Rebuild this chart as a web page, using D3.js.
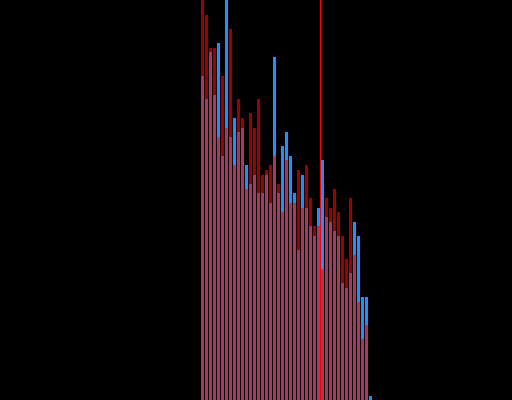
<!DOCTYPE html>
<html>
<head>
<meta charset="utf-8">
<script src="https://cdn.jsdelivr.net/npm/d3@7"></script>
<style>
html, body { margin: 0; padding: 0; background: #000; overflow: hidden; }
svg { display: block; }
</style>
</head>
<body>
<script>
// Bin start positions (x domain units)
const bins = d3.range(50, 93);
// Blue series values
const blueValues = [324, 301, 348, 305, 357, 244, 400, 263, 282, 268, 272, 235, 216, 225, 207,
  207, 225, 197, 343, 207, 254, 268, 244, 207, 150, 225, 192, 174, 164, 192,
  240, 183, 178, 169, 164, 117, 112, 127, 178, 164, 103, 103, 4];
// Red series values
const redValues = [400, 385, 352, 352, 263, 324, 272, 371, 235, 301, 282, 211, 287, 272, 301,
  225, 230, 235, 244, 216, 188, 240, 197, 197, 230, 192, 235, 202, 174, 174,
  131, 202, 192, 211, 188, 164, 141, 202, 145, 98, 61, 75, 0];
// Marker line position
const markerValue = 80;

const width = 512, height = 400;
const x = d3.scaleLinear().domain([0, 128]).range([0, width]);
const y = d3.scaleLinear().domain([0, 400]).range([height, 0]);

const svg = d3.select("body").append("svg")
  .attr("width", width).attr("height", height)
  .style("background", "#000");

svg.append("rect").attr("width", width).attr("height", height).attr("fill", "#000");

const blue = bins.map((b, i) => ({ x0: b, x1: b + 1, v: blueValues[i] }));
const red = bins.map((b, i) => ({ x0: b, x1: b + 1, v: redValues[i] }));

svg.append("g").selectAll("rect").data(blue).join("rect")
  .attr("x", d => x(d.x0) + 1)
  .attr("width", d => x(d.x1) - x(d.x0) - 1)
  .attr("y", d => y(d.v))
  .attr("height", d => y(0) - y(d.v))
  .attr("fill", "#1e90ff");

svg.append("g").selectAll("rect").data(red).join("rect")
  .attr("x", d => x(d.x0) + 1)
  .attr("width", d => x(d.x1) - x(d.x0) - 1)
  .attr("y", d => y(d.v))
  .attr("height", d => y(0) - y(d.v))
  .attr("fill", "#ff0000")
  .attr("fill-opacity", 0.62);

svg.append("line")
  .attr("x1", x(markerValue) + 0.5).attr("x2", x(markerValue) + 0.5)
  .attr("y1", 0).attr("y2", height)
  .attr("stroke", "#ff0000").attr("stroke-width", 1);
</script>
</body>
</html>
